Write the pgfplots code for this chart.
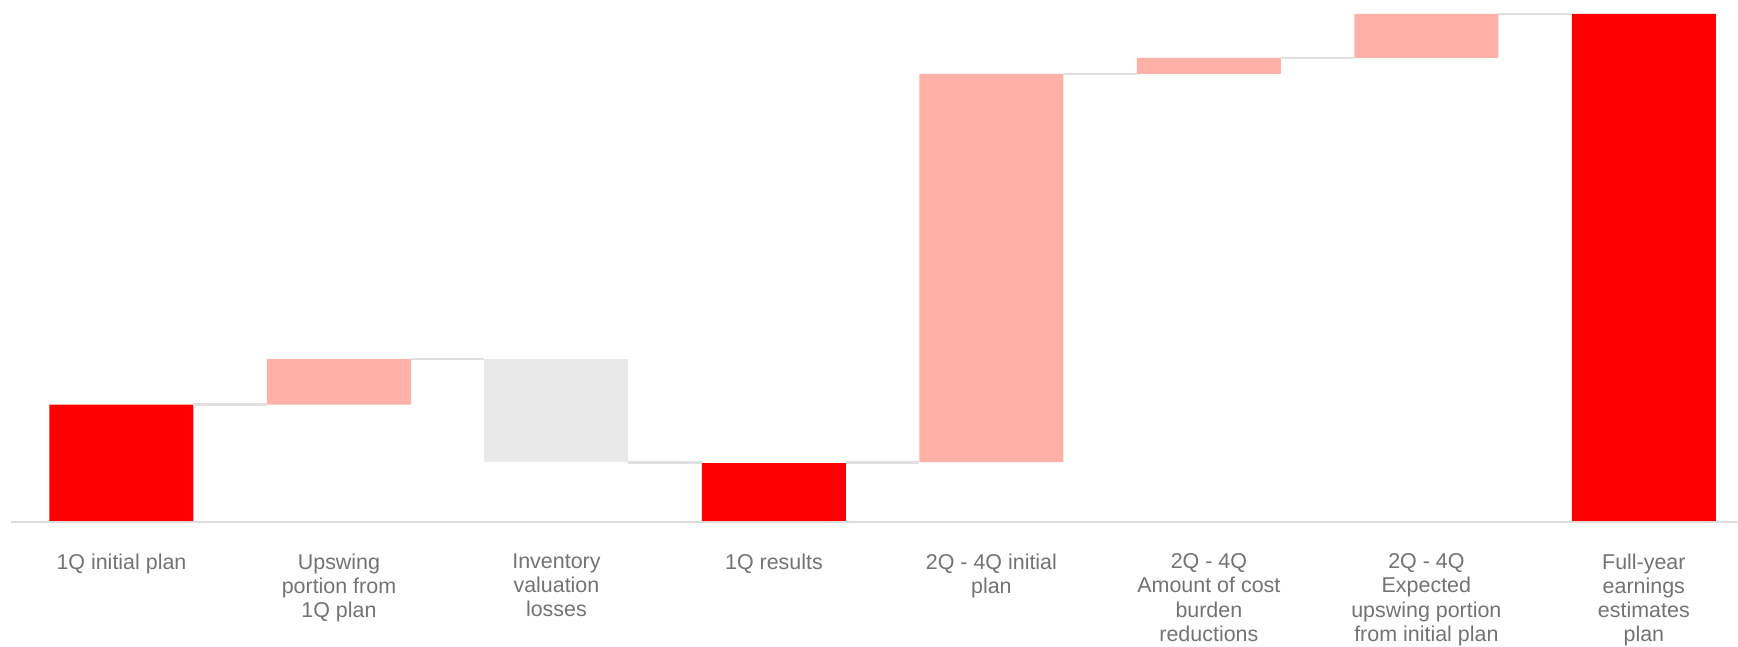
\documentclass[border=0pt]{standalone}
\usepackage{fontspec}
\setmainfont{Liberation Sans}
\usepackage{pgfplots}
\pgfplotsset{compat=1.18}
\definecolor{barred}{HTML}{FF0000}
\definecolor{barpink}{HTML}{FFB1A8}
\definecolor{bargrey}{HTML}{E9E9E9}
\definecolor{connectorgrey}{HTML}{E0E0E0}
\definecolor{axisgrey}{HTML}{DCDCDC}
\definecolor{labelgrey}{HTML}{737373}
\begin{document}
\begin{tikzpicture}
\pgfplotsset{
  commonaxis/.style={
    scale only axis,
    width=17.27cm, height=5.22cm,
    xmin=-0.508, xmax=7.433,
    ymin=0, ymax=522,
  }
}
\begin{axis}[
  commonaxis,
  ybar stacked,
  bar width=14.4mm,
  axis line style={draw=none},
  ytick=\empty,
  xtick={0,1,2,3,4,5,6,7},
  major tick length=0pt,
  xticklabels={
    1Q initial plan,
    {Upswing\\portion from\\1Q plan},
    {Inventory\\valuation\\losses},
    1Q results,
    {2Q - 4Q initial\\plan},
    {2Q - 4Q\\Amount of cost\\burden\\reductions},
    {2Q - 4Q\\Expected\\upswing portion\\from initial plan},
    {Full-year\\earnings\\estimates\\plan}
  },
  xticklabel style={font=\fontsize{6.1}{6.9}\selectfont, align=center, anchor=north, inner sep=0pt, yshift=-3.1mm, text=labelgrey},
]
% invisible base
\addplot[draw=none, fill=none] coordinates {(0,0) (1,117.5) (2,60) (3,0) (4,60) (5,448) (6,464) (7,0)};
% totals (red)
\addplot[draw=none, fill=barred] coordinates {(0,117.5) (1,0) (2,0) (3,59) (4,0) (5,0) (6,0) (7,508)};
% increases (pink)
\addplot[draw=none, fill=barpink] coordinates {(0,0) (1,45.5) (2,0) (3,0) (4,388) (5,16) (6,44) (7,0)};
% decrease (grey)
\addplot[draw=none, fill=bargrey] coordinates {(0,0) (1,0) (2,103) (3,0) (4,0) (5,0) (6,0) (7,0)};
\end{axis}
\begin{axis}[
  commonaxis,
  hide axis,
  clip=false,
]
\addplot[draw=axisgrey, line width=0.6pt] coordinates {(-0.508,0) (7.433,0)};
\addplot[draw=connectorgrey, line width=0.65pt] coordinates {(0.331,117.5) (0.669,117.5)};
\addplot[draw=connectorgrey, line width=0.65pt] coordinates {(1.331,163) (1.669,163)};
\addplot[draw=connectorgrey, line width=0.65pt] coordinates {(2.331,59.5) (2.669,59.5)};
\addplot[draw=connectorgrey, line width=0.65pt] coordinates {(3.331,59.5) (3.669,59.5)};
\addplot[draw=connectorgrey, line width=0.65pt] coordinates {(4.331,448) (4.669,448)};
\addplot[draw=connectorgrey, line width=0.65pt] coordinates {(5.331,464) (5.669,464)};
\addplot[draw=connectorgrey, line width=0.65pt] coordinates {(6.331,508) (6.669,508)};
\end{axis}
\pgfresetboundingbox
\path[use as bounding box] (-0.11cm,-1.24cm) rectangle (17.27cm,5.22cm);
\end{tikzpicture}
\end{document}
